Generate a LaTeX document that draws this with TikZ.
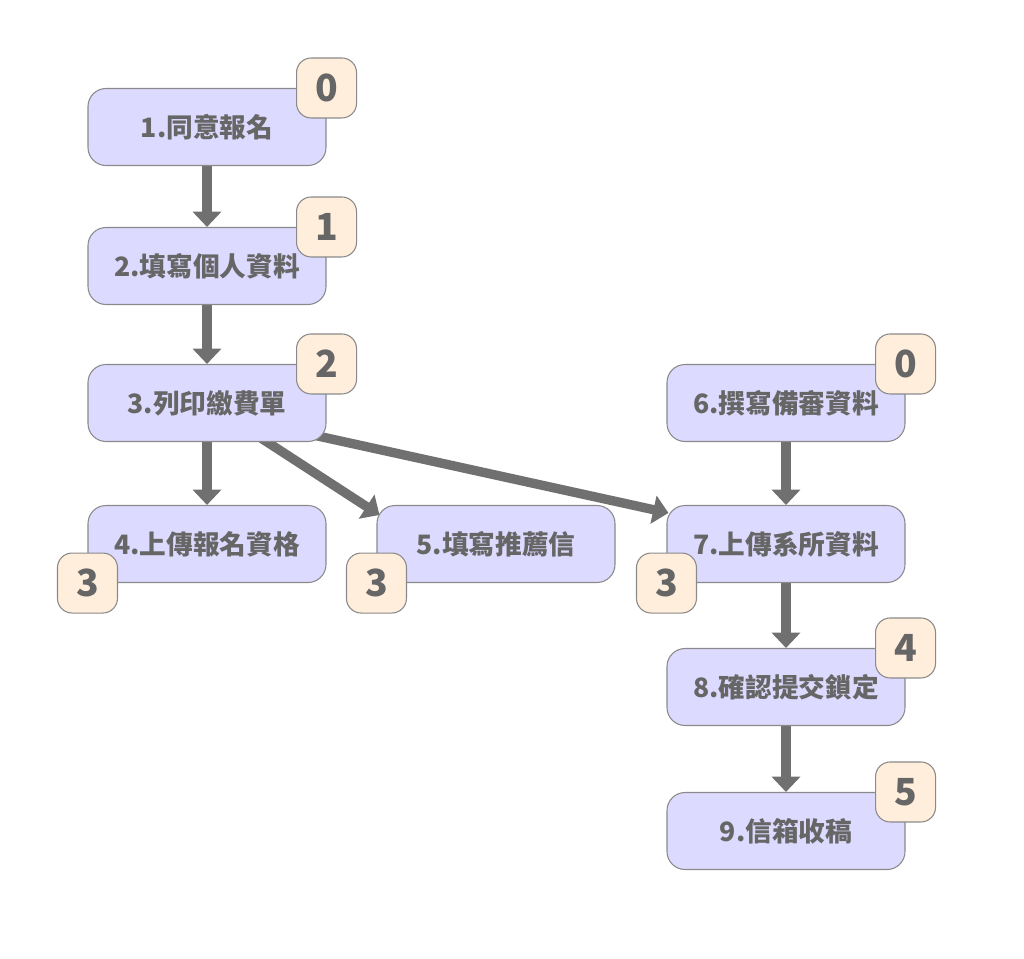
\documentclass[tikz,border=0pt]{standalone}
\usepackage{fontspec}
\setmainfont{Noto Sans CJK TC}
\usetikzlibrary{arrows.meta,backgrounds,calc}
\definecolor{boxfill}{HTML}{DDDAFF}
\definecolor{badgefill}{HTML}{FFEEDB}
\definecolor{bordergray}{HTML}{8A8A8A}
\definecolor{txt}{HTML}{666666}
\definecolor{arrgray}{HTML}{707070}
\begin{document}
\begin{tikzpicture}[x=0.75pt,y=-0.75pt,
  box/.style={draw=bordergray, line width=0.8pt, fill=boxfill, rounded corners=13.5pt,
    minimum width=178.5pt, minimum height=57.75pt, text=txt,
    font=\fontsize{20}{24}\selectfont\bfseries, inner sep=0pt},
  badge/.style={draw=bordergray, line width=0.8pt, fill=badgefill, rounded corners=11pt,
    minimum size=45pt, text=txt, font=\fontsize{28}{32}\selectfont\bfseries, inner sep=0pt},
  arr/.style={draw=arrgray, line width=7pt, -{Triangle[width=21pt,length=11.5pt]}}]
\useasboundingbox (0,0) rectangle (1024,958);
\node[box] (n1) at (207,127) {1.同意報名};
\node[box] (n2) at (207,266) {2.填寫個人資料};
\node[box] (n3) at (207,403) {3.列印繳費單};
\node[box] (n4) at (207,544) {4.上傳報名資格};
\node[box] (n5) at (496,544) {5.填寫推薦信};
\node[box] (n6) at (786,403) {6.撰寫備審資料};
\node[box] (n7) at (786,544) {7.上傳系所資料};
\node[box] (n8) at (786,687) {8.確認提交鎖定};
\node[box] (n9) at (786,831) {9.信箱收稿};
\node[badge] (b1) at (n1.north east) {0};
\node[badge] (b2) at (n2.north east) {1};
\node[badge] (b3) at (n3.north east) {2};
\node[badge] (b4) at (n4.south west) {3};
\node[badge] (b5) at (n5.south west) {3};
\node[badge] (b6) at (n6.north east) {0};
\node[badge] (b7) at (n7.south west) {3};
\node[badge] (b8) at (n8.north east) {4};
\node[badge] (b9) at (n9.north east) {5};
\begin{pgfonlayer}{background}
\draw[arr] (n1) -- (n2);
\draw[arr] (n2) -- (n3);
\draw[arr] (n3) -- (n4);
\draw[arr] (n3.center) -- ($(n5.north west)+(3,10)$);
\draw[arr] ($(n3.south east)+(-36,-12)$) -- ($(n7.north west)+(2,8)$);
\draw[arr] (n6) -- (n7);
\draw[arr] (n7) -- (n8);
\draw[arr] (n8) -- (n9);
\end{pgfonlayer}
\end{tikzpicture}
\end{document}
